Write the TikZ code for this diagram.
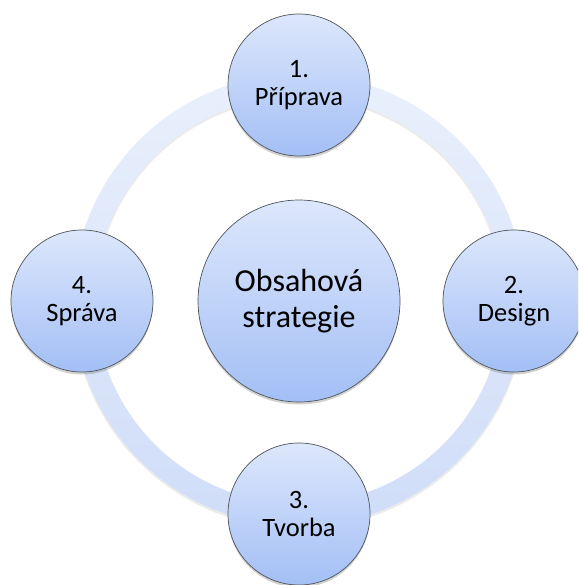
\documentclass[tikz,border=0pt]{standalone}
\usepackage{fontspec}
\setmainfont{Carlito}
\usetikzlibrary{shadows}
\definecolor{ringtop}{HTML}{E9F0FC}
\definecolor{ringbot}{HTML}{D0DDF8}
\definecolor{balltop}{HTML}{DDE7FC}
\definecolor{ballbot}{HTML}{A3BFF5}
\definecolor{edge}{HTML}{505458}
\tikzset{
  ball/.style={circle, draw=edge, line width=0.7pt, top color=balltop, bottom color=ballbot,
    align=center, inner sep=0pt, text=black,
    drop shadow={opacity=0.3, shadow xshift=0pt, shadow yshift=-2.5pt, fill=black!60}},
  stepball/.style={ball, minimum size=142pt, font=\fontsize{26.5}{28.5}\selectfont},
  coreball/.style={ball, minimum size=202pt, font=\fontsize{32}{35.5}\selectfont}
}
\begin{document}
\begin{tikzpicture}[x=1pt,y=-1pt]
\useasboundingbox (0,0) rectangle (578,585);
\begin{scope}
\clip (0,0) rectangle (578,585);
\coordinate (mid) at (299,300);
\fill[black, opacity=0.08, even odd rule]
  ([yshift=-2pt]mid) circle (226.5) ([yshift=-2pt]mid) circle (203.5);
\shade[even odd rule, top color=ringtop, bottom color=ringbot]
  (mid) circle (226) (mid) circle (204);
\node[coreball] (c) at (299,301) {Obsahová\\strategie};
\node[stepball] (n1) at (299,85) {1.\\Příprava};
\node[stepball] (n2) at (514,301) {2.\\Design};
\node[stepball] (n3) at (299,514) {3.\\Tvorba};
\node[stepball] (n4) at (82,301) {4.\\Správa};
\end{scope}
\end{tikzpicture}
\end{document}
